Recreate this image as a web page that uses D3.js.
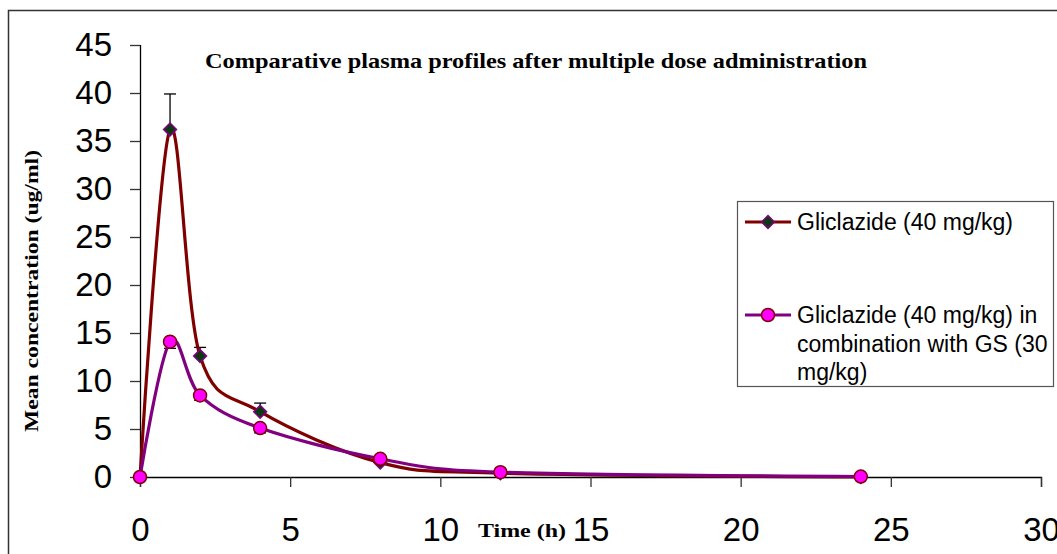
<!DOCTYPE html>
<html>
<head>
<meta charset="utf-8">
<script src="https://cdn.jsdelivr.net/npm/d3@7"></script>
<style>
    body { margin: 0; background: #fff; }
    svg { display: block; }
    .tickLabel { font-family: "Liberation Sans", Arial, sans-serif; font-size: 33px; fill: #000; }
    .axisLabel { font-family: "Liberation Serif", "Times New Roman", serif; font-weight: bold; fill: #000; }
    .legendText { font-family: "Liberation Sans", Arial, sans-serif; font-size: 23px; fill: #000; }
</style>
</head>
<body>
<div id="chart"></div>
<script>
// sampling times (h)
const times = [0, 1, 2, 4, 8, 12, 24];
// Gliclazide (40 mg/kg)
const gliclazide = [0, 36.2, 12.6, 6.8, 1.5, 0.4, 0];
const gliclazideErr = [0, 3.7, 0.9, 0.9, 0, 0, 0];
// Gliclazide (40 mg/kg) + GS (30 mg/kg)
const combination = [0, 14.1, 8.5, 5.1, 1.9, 0.5, 0.05];
const combinationErr = [0, 0.7, 0.5, 0.5, 0, 0, 0];

const xTicks = [0, 5, 10, 15, 20, 25, 30];
const yTicks = [0, 5, 10, 15, 20, 25, 30, 35, 40, 45];
const legendLabels = [
    ["Gliclazide (40 mg/kg)"],
    ["Gliclazide (40 mg/kg) in", "combination with GS (30", "mg/kg)"]
];

(function () {
    var width = 1057, height = 554;
    var margin = { top: 45, right: 16, bottom: 77, left: 140 };

    var svg = d3.select("#chart")
        .append("svg")
        .attr("width", width)
        .attr("height", height);

    // outer chart border (runs off the right and bottom edges)
    svg.append("rect")
        .attr("x", 8.5)
        .attr("y", 10.5)
        .attr("width", width + 20)
        .attr("height", height + 20)
        .attr("fill", "none")
        .attr("stroke", "#333")
        .attr("stroke-width", 1.5);

    var xScale = d3.scaleLinear()
        .domain([0, 30])
        .range([margin.left, width - margin.right]);

    var yScale = d3.scaleLinear()
        .domain([0, 45])
        .range([height - margin.bottom, margin.top]);

    var yAxis = d3.axisLeft(yScale)
        .tickValues(yTicks)
        .tickSize(10)
        .tickPadding(18);

    var xAxis = d3.axisBottom(xScale)
        .tickValues(xTicks)
        .tickSize(10)
        .tickPadding(23);

    var yAxisEl = svg.append("g")
        .attr("transform", `translate(${margin.left},0)`)
        .call(yAxis);

    var xAxisEl = svg.append("g")
        .attr("transform", `translate(0,${height - margin.bottom})`)
        .call(xAxis);

    [yAxisEl, xAxisEl].forEach(el => {
        el.select(".domain").attr("stroke", "#000").attr("stroke-width", 1.3);
        el.selectAll(".tick line").attr("stroke", "#333").attr("stroke-width", 1.3);
        el.selectAll(".tick text")
            .attr("class", "tickLabel")
            .attr("font-size", null)
            .attr("font-family", null);
    });
    yAxisEl.selectAll(".domain").attr("d", `M0.5,${yScale(45)}V${yScale(0)}`);
    xAxisEl.selectAll(".tick text").attr("dy", "0.95em");

    // title
    svg.append("text")
        .attr("class", "axisLabel")
        .attr("x", 536)
        .attr("y", 68)
        .attr("font-size", 21)
        .attr("text-anchor", "middle")
        .attr("textLength", 662)
        .attr("lengthAdjust", "spacingAndGlyphs")
        .text("Comparative plasma profiles after multiple dose administration");

    svg.append("text")
        .attr("class", "axisLabel")
        .attr("transform", "rotate(-90)")
        .attr("x", -291)
        .attr("y", 38)
        .attr("font-size", 18)
        .attr("text-anchor", "middle")
        .attr("textLength", 282)
        .attr("lengthAdjust", "spacingAndGlyphs")
        .text("Mean concentration (ug/ml)");

    svg.append("text")
        .attr("class", "axisLabel")
        .attr("x", 522)
        .attr("y", 537)
        .attr("font-size", 18)
        .attr("text-anchor", "middle")
        .attr("textLength", 88)
        .attr("lengthAdjust", "spacingAndGlyphs")
        .text("Time (h)");

    var series = [
        { name: legendLabels[0], values: gliclazide, err: gliclazideErr, dir: 1,
          line: "#800000", marker: "diamond", fill: "#0b3a12", edge: "#800080" },
        { name: legendLabels[1], values: combination, err: combinationErr, dir: -1,
          line: "#800080", marker: "circle", fill: "#ff00ff", edge: "#800000" }
    ];

    var line = d3.line()
        .x(d => xScale(d[0]))
        .y(d => yScale(d[1]))
        .curve(d3.curveCardinal.tension(0));

    var diamond = d3.symbol().type(d3.symbolDiamond2).size(105);

    function drawMarker(g, s, x, y) {
        if (s.marker == "diamond") {
            g.append("path")
                .attr("d", diamond())
                .attr("transform", `translate(${x},${y})`)
                .attr("fill", s.fill)
                .attr("stroke", s.edge)
                .attr("stroke-width", 1.5);
        } else {
            g.append("circle")
                .attr("cx", x)
                .attr("cy", y)
                .attr("r", 6.5)
                .attr("fill", s.fill)
                .attr("stroke", s.edge)
                .attr("stroke-width", 1.5);
        }
    }

    // error bars first, under the lines
    series.forEach(s => {
        var g = svg.append("g");
        times.forEach((t, i) => {
            if (s.err[i] <= 0) return;
            var x = xScale(t);
            var y1 = yScale(s.values[i]);
            var y2 = yScale(s.values[i] + s.dir * s.err[i]);
            g.append("line")
                .attr("x1", x).attr("x2", x)
                .attr("y1", y1).attr("y2", y2)
                .attr("stroke", "#000").attr("stroke-width", 1.3);
            g.append("line")
                .attr("x1", x - 6).attr("x2", x + 6)
                .attr("y1", y2).attr("y2", y2)
                .attr("stroke", "#000").attr("stroke-width", 1.3);
        });
    });

    series.forEach(s => {
        svg.append("path")
            .datum(times.map((t, i) => [t, s.values[i]]))
            .attr("d", line)
            .attr("fill", "none")
            .attr("stroke", s.line)
            .attr("stroke-width", 3.2);
    });

    series.forEach(s => {
        var g = svg.append("g");
        times.forEach((t, i) => drawMarker(g, s, xScale(t), yScale(s.values[i])));
    });

    // legend
    var legend = svg.append("g");
    legend.append("rect")
        .attr("x", 737.5)
        .attr("y", 201.5)
        .attr("width", 316)
        .attr("height", 185)
        .attr("fill", "#fff")
        .attr("stroke", "#555")
        .attr("stroke-width", 1.2);

    var legendY = [222, 315];
    series.forEach((s, i) => {
        var y = legendY[i];
        legend.append("line")
            .attr("x1", 745).attr("x2", 791)
            .attr("y1", y).attr("y2", y)
            .attr("stroke", s.line)
            .attr("stroke-width", 3);
        drawMarker(legend, s, 768, y);
        s.name.forEach((txt, j) => {
            legend.append("text")
                .attr("class", "legendText")
                .attr("x", 797)
                .attr("y", y + j * 28.5)
                .attr("dy", "0.36em")
                .text(txt);
        });
    });
})();
</script>
</body>
</html>
